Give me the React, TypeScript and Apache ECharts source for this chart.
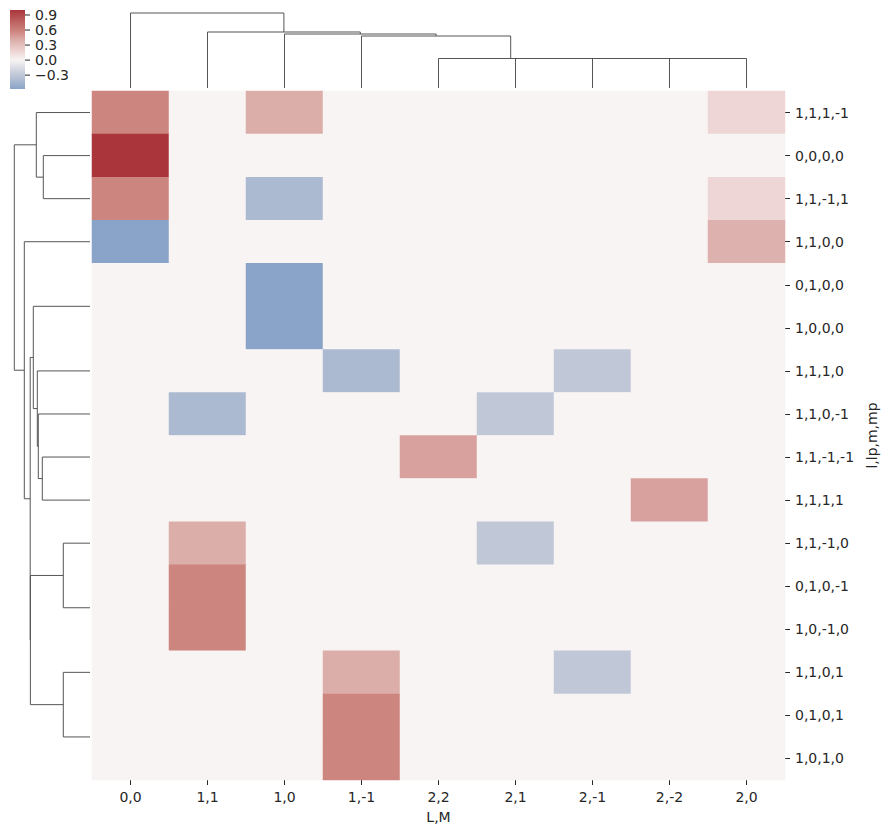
import React, { useEffect, useRef } from "react";
import * as echarts from "echarts";

const colLabels = ["0,0", "1,1", "1,0", "1,-1", "2,2", "2,1", "2,-1", "2,-2", "2,0"];
const rowLabels = [
  "1,1,1,-1", "0,0,0,0", "1,1,-1,1", "1,1,0,0", "0,1,0,0", "1,0,0,0", "1,1,1,0", "1,1,0,-1",
  "1,1,-1,-1", "1,1,1,1", "1,1,-1,0", "0,1,0,-1", "1,0,-1,0", "1,1,0,1", "0,1,0,1", "1,0,1,0",
];

// rows x columns (column order as in colLabels)
const values = [
  [0.577, 0, 0.4, 0, 0, 0, 0, 0, 0.17],
  [1.0, 0, 0, 0, 0, 0, 0, 0, 0],
  [0.577, 0, -0.408, 0, 0, 0, 0, 0, 0.17],
  [-0.577, 0, 0, 0, 0, 0, 0, 0, 0.38],
  [0, 0, -0.577, 0, 0, 0, 0, 0, 0],
  [0, 0, -0.577, 0, 0, 0, 0, 0, 0],
  [0, 0, 0, -0.408, 0, 0, -0.289, 0, 0],
  [0, -0.408, 0, 0, 0, -0.289, 0, 0, 0],
  [0, 0, 0, 0, 0.45, 0, 0, 0, 0],
  [0, 0, 0, 0, 0, 0, 0, 0.45, 0],
  [0, 0.4, 0, 0, 0, -0.289, 0, 0, 0],
  [0, 0.577, 0, 0, 0, 0, 0, 0, 0],
  [0, 0.577, 0, 0, 0, 0, 0, 0, 0],
  [0, 0, 0, 0.4, 0, 0, -0.289, 0, 0],
  [0, 0, 0, 0.577, 0, 0, 0, 0, 0],
  [0, 0, 0, 0.577, 0, 0, 0, 0, 0],
];

// colorbar ticks
const cbTicks = [0.9, 0.6, 0.3, 0.0, -0.3];
const cbMin = -0.577;
const cbMax = 1.0;

// linkage: [childA, childB, distance]
const rowLinkage = [
  [4, 5, 0],
  [11, 12, 0],
  [14, 15, 0],
  [8, 9, 47.7],
  [7, 19, 51.7],
  [6, 20, 52.7],
  [16, 21, 56.7],
  [10, 17, 26.7],
  [13, 18, 26.7],
  [23, 24, 59.6],
  [22, 25, 59.8],
  [3, 26, 65.7],
  [1, 2, 46.7],
  [0, 28, 53.7],
  [29, 27, 75.7],
];
const colLinkage = [
  [7, 8, 29.5],
  [6, 9, 29.5],
  [5, 10, 29.5],
  [4, 11, 29.5],
  [3, 12, 52],
  [2, 13, 54],
  [1, 14, 56],
  [0, 15, 75],
];

const colorStops: [number, string][] = [
  [-1, "#2369bd"],
  [-0.577, "#8aa3c8"],
  [-0.408, "#abbad1"],
  [-0.289, "#c0c8d8"],
  [0, "#f8f4f3"],
  [0.17, "#edd6d5"],
  [0.4, "#dbaea9"],
  [0.45, "#d9a19e"],
  [0.577, "#cd857f"],
  [1, "#aa363c"],
];

function hexToRgb(h: string) {
  return [parseInt(h.slice(1, 3), 16), parseInt(h.slice(3, 5), 16), parseInt(h.slice(5, 7), 16)];
}
function colorAt(v: number) {
  if (v <= colorStops[0][0]) return colorStops[0][1];
  for (let i = 1; i < colorStops.length; i++) {
    const [v1, c1] = colorStops[i];
    const [v0, c0] = colorStops[i - 1];
    if (v <= v1) {
      const t = (v - v0) / (v1 - v0);
      const a = hexToRgb(c0);
      const b = hexToRgb(c1);
      const r = a.map((x, k) => Math.round(x + (b[k] - x) * t));
      return `rgb(${r[0]},${r[1]},${r[2]})`;
    }
  }
  return colorStops[colorStops.length - 1][1];
}

function dendro(linkage: number[][], n: number) {
  const pos: number[] = [];
  const ht: number[] = [];
  for (let i = 0; i < n; i++) {
    pos[i] = i + 0.5;
    ht[i] = 0;
  }
  const segs: number[][][] = [];
  linkage.forEach(([a, b, h], k) => {
    const id = n + k;
    pos[id] = (pos[a] + pos[b]) / 2;
    ht[id] = h;
    if (h > 0) {
      segs.push([
        [pos[a], ht[a]],
        [pos[a], h],
        [pos[b], h],
        [pos[b], ht[b]],
      ]);
    }
  });
  return segs;
}

export default function App() {
  const ref = useRef<HTMLDivElement>(null);
  useEffect(() => {
    if (!ref.current) return;
    const chart = echarts.init(ref.current, null, { renderer: "svg" });
    const font = "DejaVu Sans";
    const textColor = "#262626";

    const heatData: number[][] = [];
    values.forEach((row, r) => row.forEach((v, c) => heatData.push([c, r, v])));

    const inRange: string[] = [];
    for (let i = 0; i <= 400; i++) inRange.push(colorAt(-1 + (2 * i) / 400));

    const topSegs = dendro(colLinkage, colLabels.length).map((s) => ({ coords: s }));
    const leftSegs = dendro(rowLinkage, rowLabels.length).map((s) => ({
      coords: s.map(([p, h]) => [h, p]),
    }));

    const gradStops: { offset: number; color: string }[] = [];
    for (let i = 0; i <= 40; i++) {
      const t = i / 40;
      gradStops.push({ offset: t, color: colorAt(cbMax - t * (cbMax - cbMin)) });
    }
    const cbTop = 10;
    const cbH = 79;
    const cbY = (v: number) => cbTop + ((cbMax - v) / (cbMax - cbMin)) * cbH;

    const graphic: any[] = [
      {
        type: "rect",
        shape: { x: 10, y: cbTop, width: 15, height: cbH },
        style: { fill: { type: "linear", x: 0, y: 0, x2: 0, y2: 1, colorStops: gradStops } },
        silent: true,
      },
    ];
    cbTicks.forEach((t) => {
      const y = cbY(t);
      graphic.push({
        type: "line",
        shape: { x1: 25, y1: y, x2: 30, y2: y },
        style: { stroke: textColor, lineWidth: 1 },
        silent: true,
      });
      graphic.push({
        type: "text",
        x: 35,
        y: y,
        style: {
          text: t < 0 ? "\u2212" + Math.abs(t).toFixed(1) : t.toFixed(1),
          fontFamily: font,
          fontSize: 14,
          fill: textColor,
          verticalAlign: "middle",
          align: "left",
        },
        silent: true,
      });
    });

    const lineStyle = { color: "#555", width: 1, opacity: 1 };

    chart.setOption({
      animation: false,
      backgroundColor: "#ffffff",
      textStyle: { fontFamily: font },
      grid: [
        { left: 92, top: 91, width: 693, height: 689, outerBoundsMode: "none", containLabel: false },
        { left: 92, top: 8, width: 693, height: 80, outerBoundsMode: "none", containLabel: false },
        { left: 10, top: 91, width: 80, height: 689, outerBoundsMode: "none", containLabel: false },
      ],
      xAxis: [
        {
          type: "category",
          gridIndex: 0,
          data: colLabels,
          position: "bottom",
          axisLine: { show: false },
          axisTick: { show: true, alignWithLabel: true, length: 5, lineStyle: { color: textColor } },
          axisLabel: { margin: 10, fontSize: 14, color: textColor, fontFamily: font },
          splitLine: { show: false },
          name: "L,M",
          nameLocation: "middle",
          nameGap: 30,
          nameTextStyle: { fontSize: 14, color: textColor, fontFamily: font },
        },
        { type: "value", gridIndex: 1, min: 0, max: 9, show: false },
        { type: "value", gridIndex: 2, min: 0, max: 80, inverse: true, show: false },
      ],
      yAxis: [
        {
          type: "category",
          gridIndex: 0,
          data: rowLabels,
          inverse: true,
          position: "right",
          axisLine: { show: false },
          axisTick: { show: true, alignWithLabel: true, length: 5, lineStyle: { color: textColor } },
          axisLabel: { margin: 10, fontSize: 14, color: textColor, fontFamily: font },
          splitLine: { show: false },
          name: "l,lp,m,mp",
          nameLocation: "middle",
          nameRotate: 90,
          nameGap: 76,
          nameTextStyle: { fontSize: 14, color: textColor, fontFamily: font },
        },
        { type: "value", gridIndex: 1, min: 0, max: 80, show: false },
        { type: "value", gridIndex: 2, min: 0, max: 16, inverse: true, show: false },
      ],
      visualMap: {
        type: "continuous",
        show: false,
        min: -1,
        max: 1,
        dimension: 2,
        seriesIndex: 0,
        inRange: { color: inRange },
      },
      series: [
        {
          type: "heatmap",
          xAxisIndex: 0,
          yAxisIndex: 0,
          data: heatData,
          itemStyle: { borderWidth: 0 },
          emphasis: { disabled: true },
          silent: true,
        },
        {
          type: "lines",
          coordinateSystem: "cartesian2d",
          xAxisIndex: 1,
          yAxisIndex: 1,
          polyline: true,
          data: topSegs,
          lineStyle,
          silent: true,
        },
        {
          type: "lines",
          coordinateSystem: "cartesian2d",
          xAxisIndex: 2,
          yAxisIndex: 2,
          polyline: true,
          data: leftSegs,
          lineStyle,
          silent: true,
        },
      ],
      graphic,
    });
    return () => chart.dispose();
  }, []);
  return (
    <div
      ref={ref}
      style={{ position: "fixed", left: 0, top: 0, width: 882, height: 833 }}
    />
  );
}
